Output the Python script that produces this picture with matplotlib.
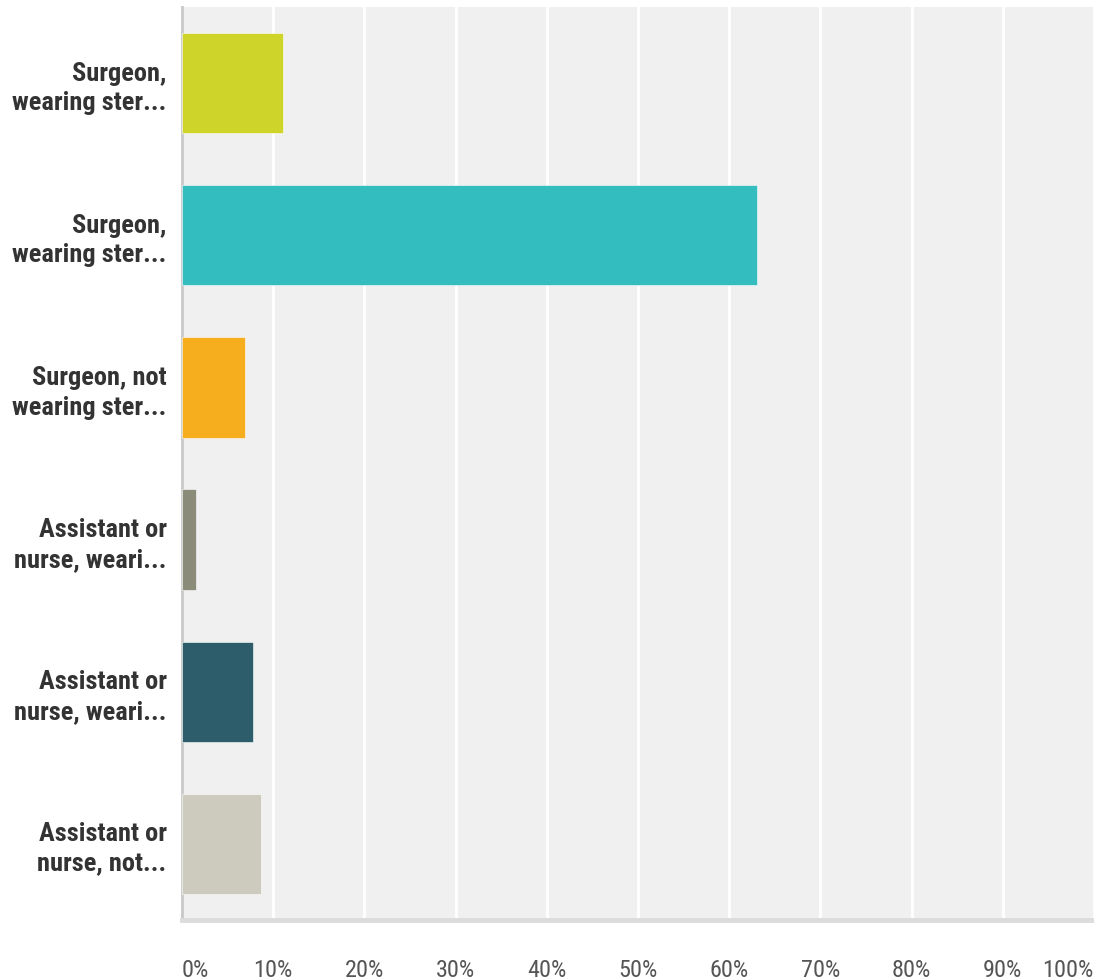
import matplotlib.pyplot as plt
from matplotlib import font_manager

labels = ['Surgeon,\nwearing ster...', 'Surgeon,\nwearing ster...', 'Surgeon, not\nwearing ster...',
          'Assistant or\nnurse, weari...', 'Assistant or\nnurse, weari...', 'Assistant or\nnurse, not...']
values = [11.1, 63.1, 6.9, 1.5, 7.8, 8.7]
colors = ['#cfd42a', '#33bdbf', '#f7ae1e', '#8b8b7a', '#2d5d6a', '#cdcbbd']
ticks = [0, 10, 20, 30, 40, 50, 60, 70, 80, 90, 100]

# pick a condensed face if one is around, else plain Liberation Sans
names = {f.name for f in font_manager.fontManager.ttflist}
narrow = 'Liberation Sans'
for cand in ['Arial Narrow', 'Liberation Sans Narrow', 'Roboto Condensed', 'PT Sans Narrow',
             'Archivo Narrow', 'Pragati Narrow']:
    if cand in names:
        narrow = cand
        break

fig = plt.figure(figsize=(10.94, 9.8), dpi=100)
ax = fig.add_axes([182 / 1094, 1 - 920 / 980, 1 - 182 / 1094, 913 / 980])
ax.set_facecolor('#f0f0f0')

ypos = list(range(len(values)))
ax.barh(ypos, values, height=0.66, color=colors, edgecolor='white', linewidth=0.4, zorder=3)
ax.set_ylim(len(values) - 0.5, -0.5)
ax.set_xlim(0, 100)

ax.set_xticks(ticks)
ax.set_xticklabels([f'{t}%' for t in ticks], fontsize=17.5, color='#555555', family=narrow)
tl = ax.get_xticklabels()
tl[0].set_ha('left')
tl[-1].set_ha('right')
ax.tick_params(axis='x', length=0, pad=28)
ax.xaxis.grid(True, color='white', linewidth=2, zorder=1)
ax.set_axisbelow(True)

ax.set_yticks(ypos)
ax.set_yticklabels(labels, fontsize=19, fontweight='bold', color='#333333', family=narrow,
                   linespacing=1.3)
ax.tick_params(axis='y', length=0, pad=11)

for s in ['top', 'right']:
    ax.spines[s].set_visible(False)
ax.spines['left'].set_color('#c8c8c8')
ax.spines['left'].set_linewidth(2)
ax.spines['bottom'].set_color('#dcdcdc')
ax.spines['bottom'].set_linewidth(3.5)

fig.savefig('out.png', dpi=100)
